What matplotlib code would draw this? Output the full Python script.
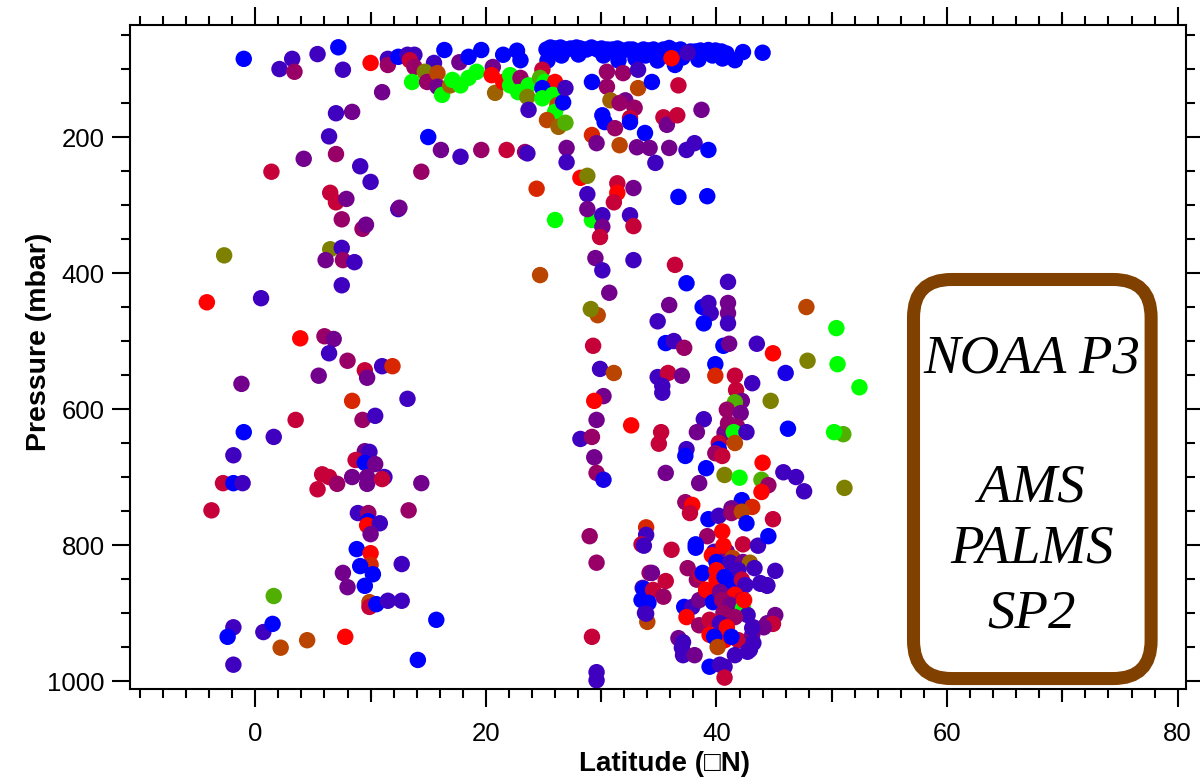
import matplotlib
matplotlib.use("Agg")
import matplotlib.pyplot as plt
from matplotlib.colors import LinearSegmentedColormap, Normalize
from matplotlib.patches import FancyBboxPatch
from matplotlib.ticker import MultipleLocator

# ratio code: 0 = blue, 1 = red, 2 = green (same scale the instruments were coloured with)

# dense band of blue points at the top (all ratio 0)
band_lat = [25.2, 25.6, 26.0, 26.4, 26.9, 27.3, 27.8, 28.2, 28.7, 29.1, 29.6, 30.0, 30.5, 30.9, 31.4,
            31.8, 32.3, 32.7, 33.2, 33.6, 34.1, 34.5, 35.0, 35.4, 36.3, 36.8, 37.7, 38.1, 38.6, 39.5,
            39.9, 40.4, 40.8, 25.3, 26.5, 28.0, 30.2, 31.5, 32.9, 33.8, 34.8, 35.5, 37.0, 38.4, 39.6, 40.5]
band_p = [70, 68, 69, 68, 70, 69, 68, 69, 70, 68, 70, 69, 70, 71, 69,
          72, 70, 71, 73, 70, 72, 71, 73, 70, 72, 71, 73, 74, 72, 73,
          72, 74, 76, 86, 80, 78, 79, 86, 84, 80, 86, 80, 82, 85, 80, 84]

# (latitude, pressure, ratio)
upper_left = [
    (-1.0, 85, 0), (2.1, 100, .25), (3.2, 85, .25), (3.4, 104, .6), (5.4, 78, .25), (7.2, 68, 0),
    (7.6, 101, .25), (10.0, 91, 1), (11.5, 85, .25), (11.5, 94, .6), (12.4, 82, 0), (11.0, 134, .45),
    (7.0, 165, .25), (8.4, 163, .45), (6.4, 199, .25), (7.0, 225, .6), (4.2, 232, .45), (9.1, 243, .25),
    (10.0, 266, .25), (1.4, 251, .78), (6.5, 282, .78), (7.0, 296, .78), (7.9, 291, .45), (12.4, 306, .25),
    (7.5, 321, .6), (9.3, 335, .6), (9.6, 329, .45), (6.5, 365, 1.5), (7.5, 363, .25), (6.1, 381, .45),
    (7.6, 381, .6), (8.6, 384, .25), (7.5, 418, .25), (-2.7, 374, 1.5), (-4.2, 443, 1.0), (0.5, 437, .25),
]

upper_mid = [
    (13.2, 79, .25), (13.8, 79, .25), (13.4, 87, .78), (13.8, 97, .6), (16.4, 72, 0), (15.5, 91, .25),
    (17.7, 90, .45), (18.5, 82, 0), (19.6, 72, 0), (21.5, 79, 0), (22.7, 73, 0), (23.0, 87, 0), (20.6, 97, .45),
    (13.6, 119, 2), (14.7, 104, 1.5), (14.9, 119, .6), (15.8, 106, 1.27), (15.8, 126, .45), (16.2, 138, 2),
    (16.9, 124, 1.38), (17.1, 116, 2), (17.8, 124, 2), (18.5, 113, 2), (19.2, 104, 2), (20.5, 109, 1),
    (20.8, 135, 1.38), (21.5, 119, 1), (22.1, 109, 2), (22.1, 124, 2), (23.0, 113, .6), (22.8, 134, 2),
    (23.7, 124, 2), (23.6, 141, 1.5), (23.7, 160, .25),
    (24.9, 101, .78), (24.7, 113, 1.68), (25.1, 119, 2), (26.0, 119, 1), (24.9, 128, 0), (24.9, 143, 2),
    (25.8, 138, 2), (26.2, 153, 1.27), (26.0, 163, 2), (26.7, 149, 0), (26.9, 128, .25), (25.3, 175, 1.27),
    (26.3, 185, 1.38), (26.9, 179, 1.68),
    (35.9, 69, 0), (37.5, 76, .25), (39.3, 72, 0), (41.6, 87, 0), (42.3, 75, 0), (44.0, 76, 0), (36.4, 94, 0),
    (36.1, 84, 1),
    (30.5, 104, .6), (31.9, 106, .6), (33.2, 101, .25), (30.5, 126, .6), (29.2, 119, 0), (30.8, 146, 1.38),
    (32.1, 146, .45), (31.6, 150, .6), (33.2, 128, 1.27), (34.4, 119, 0), (36.7, 124, .78), (32.9, 157, .6),
    (32.5, 172, .78), (32.5, 178, 0), (30.1, 168, 0), (30.3, 178, 0), (31.2, 187, .6), (33.8, 194, 0),
    (35.4, 171, .78), (35.7, 182, .45), (36.6, 168, .78), (38.7, 160, .45),
    (29.2, 197, 1.15), (29.6, 209, .45), (31.6, 212, 1.27), (33.1, 215, .45), (34.2, 216, .45),
    (35.9, 216, .45), (37.4, 219, .25), (38.1, 209, .25), (39.3, 219, 0), (34.7, 238, .25),
    (15.0, 200, 0), (16.1, 219, .45), (17.8, 229, .25), (19.6, 219, .6), (21.8, 219, .78), (23.4, 222, .6),
    (23.6, 224, .25), (27.0, 216, .45), (27.0, 237, .25), (14.4, 251, .6), (12.5, 304, .45),
    (24.4, 276, 1.15), (28.2, 260, 1), (28.8, 257, 1.5), (28.8, 284, .25), (31.4, 268, .78), (31.4, 282, 1),
    (31.1, 296, .78), (32.8, 275, .45), (36.7, 288, 0), (39.2, 287, 0),
    (26.0, 322, 2), (29.2, 322, 2), (28.8, 306, .45), (30.1, 315, .25), (30.1, 332, .45), (32.5, 315, .25),
    (32.8, 331, .78), (29.9, 347, .78), (29.5, 378, .45), (30.1, 396, .25), (32.8, 381, .25), (36.4, 388, .78),
    (37.4, 415, 0), (41.0, 413, .25), (24.7, 403, 1.27), (30.7, 429, .45),
]

lower_left = [
    (3.9, 496, 1), (6.0, 493, .6), (6.8, 497, .45), (6.4, 518, .25), (8.0, 529, .6), (9.5, 543, .78),
    (9.7, 554, .45), (11.0, 537, .25), (11.9, 537, 1.15), (5.5, 551, .45), (-1.2, 563, .45), (8.4, 588, 1.15),
    (13.2, 585, .25), (3.5, 616, .78), (9.3, 616, .6), (10.4, 610, .25), (-1.0, 634, 0), (1.6, 641, .25),
    (-1.9, 668, .25), (9.5, 662, .45), (9.9, 663, .25), (8.7, 675, .78), (9.5, 679, 0), (10.4, 681, .45),
    (5.8, 696, .78), (6.4, 700, .78), (7.1, 710, .6), (5.4, 718, .78), (8.4, 700, .45), (9.7, 700, .45),
    (9.7, 710, .45), (11.2, 700, .25), (11.0, 703, .78), (14.4, 709, .45), (-2.8, 709, .78), (-1.9, 709, 0),
    (-1.1, 709, .25), (-3.8, 749, .78), (8.9, 753, .25), (9.8, 753, .6), (9.8, 765, 0), (9.7, 771, 1),
    (10.8, 768, .25), (10.0, 784, .45), (13.3, 749, .6), (8.8, 806, 0), (10.0, 812, 1), (10.0, 829, 1.15),
    (9.1, 831, 0), (10.2, 843, 0), (12.7, 828, .25), (7.6, 841, .45), (8.0, 862, .45), (9.5, 860, 0),
    (1.6, 875, 1.68), (9.9, 884, 1.27), (9.9, 891, .78), (10.5, 887, 0), (11.5, 882, .25), (12.7, 882, .25),
    (-1.9, 921, .25), (-2.4, 935, 0), (0.7, 928, .25), (1.5, 916, 0), (2.2, 951, 1.27), (4.5, 940, 1.27),
    (7.8, 935, 1), (-1.9, 976, .25), (14.1, 969, 0), (15.7, 910, 0),
]

lower_mid = [
    (29.7, 462, 1.27), (29.1, 453, 1.5), (29.3, 507, .78), (29.9, 541, .25), (31.1, 547, 1.27), (30.2, 581, .45),
    (29.4, 588, 1), (29.6, 616, .45), (32.6, 624, 1), (28.2, 644, .25), (29.2, 641, .6), (29.4, 671, .45),
    (29.6, 694, .6), (30.2, 704, .1), (29.0, 787, .6), (29.6, 826, .6), (29.2, 935, .78), (29.6, 987, .25),
    (29.6, 999, .25),
    (33.9, 774, 1.15), (33.9, 785, .25), (33.5, 799, .78), (33.7, 801, .25), (34.2, 841, .6), (33.6, 863, .25),
    (33.5, 881, 0), (33.8, 900, .25), (34.0, 913, 1.27),
]

right_mid = [
    (35.9, 447, .45), (34.9, 471, .25), (38.8, 450, 0), (39.3, 444, .25), (39.5, 459, .25), (38.9, 474, 0),
    (41.0, 444, .45), (41.0, 459, .45), (41.0, 474, .25), (47.8, 450, 1.27), (50.4, 481, 2),
    (35.6, 503, 0), (36.3, 500, .25), (37.2, 510, .6), (40.6, 507, 0), (41.1, 504, .45), (43.5, 504, .25),
    (44.9, 518, 1), (47.9, 529, 1.5), (50.5, 534, 2), (39.9, 534, 0), (39.9, 551, 1.15), (41.6, 551, .78),
    (34.9, 553, .25), (35.8, 547, .78), (37.0, 551, .45), (35.3, 566, .25), (35.3, 576, .25), (43.1, 562, .25),
    (46.0, 547, .1), (52.4, 568, 2),
    (41.7, 572, .78), (42.2, 588, .45), (41.6, 590, 1.68), (44.7, 588, 1.5), (40.9, 601, .6), (42.1, 606, .45),
    (38.9, 615, .25), (38.3, 634, .45), (40.7, 635, .45), (41.0, 621, .6), (41.8, 626, .6), (41.5, 634, 2),
    (42.6, 634, .25), (46.2, 629, 0), (51.0, 637, 1.68), (50.2, 634, 2),
    (35.2, 634, .78), (35.0, 651, .78), (40.2, 650, .78), (41.6, 650, 1.27), (40.2, 659, 0), (39.9, 665, .6),
    (40.5, 669, .78), (37.4, 659, .25), (37.3, 669, 0), (39.1, 687, 0), (35.6, 694, .45), (38.5, 709, .45),
    (40.7, 697, 1.5), (42.0, 701, 2), (44.0, 679, 1), (43.9, 704, 1.68), (44.5, 712, .6), (43.9, 722, 1),
    (45.8, 693, .25), (46.9, 700, .25), (47.6, 721, .25), (51.1, 716, 1.5),
    (42.2, 734, 0), (37.3, 737, .6), (37.9, 741, 1), (43.1, 744, 1.15), (41.3, 746, .45),
]

lower_right = [
    (37.7, 753, .78), (39.3, 762, 0), (40.2, 757, .25), (41.3, 753, .6), (42.2, 751, 1.27), (42.6, 768, 0),
    (40.5, 780, 1), (39.2, 787, .6), (38.2, 799, 0), (38.2, 804, 0), (42.3, 799, .78), (43.6, 801, .25),
    (36.1, 807, .78), (39.8, 810, .25), (40.9, 810, .45), (40.6, 801, 1), (39.6, 815, 1), (40.0, 825, 0),
    (41.4, 819, 1.27), (41.2, 826, .25), (42.3, 825, .45), (42.9, 826, 1.38), (43.3, 834, .25), (34.4, 841, .45),
    (35.6, 853, .78), (37.5, 834, .6), (38.3, 851, .6), (38.6, 844, .78), (38.8, 841, 0), (40.0, 837, 1),
    (40.0, 851, 1), (41.9, 837, .25), (40.7, 847, 0), (41.2, 856, 0), (41.3, 863, 0), (42.2, 851, .78),
    (42.5, 859, .25), (43.8, 856, .25), (44.4, 859, .25), (33.7, 865, 0), (34.5, 866, .78), (35.4, 876, .6),
    (34.1, 885, 0), (33.9, 901, .25), (37.2, 891, 0), (37.9, 891, .25), (37.4, 906, 1), (38.5, 881, .45),
    (39.1, 866, 1), (39.7, 884, 0), (40.3, 869, .45), (41.6, 873, 1), (40.5, 881, .6), (42.2, 881, .78),
    (41.2, 888, .45), (42.3, 893, 2), (42.7, 903, .25), (40.6, 900, .6), (41.6, 906, .6), (38.5, 918, .6),
    (39.4, 910, .78), (40.3, 915, .25), (40.9, 921, 1), (43.2, 921, .25), (44.4, 915, .45), (39.4, 932, 1),
    (40.7, 940, 1), (41.9, 940, .78), (39.8, 935, 0), (41.3, 935, 0), (43.1, 932, .45), (43.2, 944, .25),
    (36.7, 937, .45), (37.1, 943, .25), (37.0, 951, .25), (37.1, 962, .25), (38.1, 962, .45), (40.1, 950, 1.27),
    (41.6, 962, .25), (42.7, 957, .25), (39.4, 979, 0), (40.3, 976, .25), (40.7, 979, .25), (40.7, 995, .78),
    (44.9, 762, .78), (44.5, 787, 0), (45.1, 838, .25), (43.8, 857, .25), (44.4, 860, .25), (42.4, 881, 1),
    (45.1, 903, .45), (44.9, 916, .78), (44.1, 921, .45), (43.1, 922, .25), (42.9, 954, .25),
]

x_ticks = [0, 20, 40, 60, 80]
x_mid_ticks = [10, 30, 50, 70]
y_ticks = [200, 400, 600, 800, 1000]
box_lines = ["NOAA P3", "AMS", "PALMS", "SP2"]

plt.rcParams['font.family'] = ['Liberation Sans', 'DejaVu Sans']

cmap = LinearSegmentedColormap.from_list("ratio", ["#0000ff", "#ff0000", "#00ff00"])
norm = Normalize(0, 2)
dot = 140

fig = plt.figure(figsize=(12, 7.83), dpi=100)
ax = fig.add_axes([0.1083, 0.12, 0.88, 0.848])

ax.scatter(band_lat, band_p, s=dot, color=cmap(norm(0)), linewidths=0, zorder=2)
for grp in [upper_left, upper_mid, lower_left, lower_mid, right_mid, lower_right]:
    la = [g[0] for g in grp]
    pr = [g[1] for g in grp]
    cv = [g[2] for g in grp]
    ax.scatter(la, pr, s=dot, c=cv, cmap=cmap, norm=norm, linewidths=0, zorder=2)

ax.set_xlim(-10.87, 80.72)
ax.set_ylim(1011.8, 35.3)

ax.set_xticks(x_ticks)
ax.xaxis.set_minor_locator(MultipleLocator(2))
ax.set_yticks(y_ticks)
ax.yaxis.set_minor_locator(MultipleLocator(50))
ax.tick_params(which='both', direction='out', top=True, right=True, width=1.5,
               labelsize=18.5, labeltop=False, labelright=False)
ax.tick_params(which='major', length=13)
ax.tick_params(which='minor', length=6.5)
ax.tick_params(axis='x', which='major', pad=11)
ax.tick_params(axis='y', which='major', pad=5)
for sp in ax.spines.values():
    sp.set_linewidth(1.5)

# medium ticks every 10 degrees, top and bottom
for side in ['bottom', 'top']:
    sec = ax.secondary_xaxis(side)
    sec.set_xticks(x_mid_ticks)
    sec.set_xticklabels([])
    sec.tick_params(length=9.5, width=1.5, direction='out')
    sec.spines[side].set_visible(False)
    sec.xaxis.set_minor_locator(plt.NullLocator())

ax.set_xlabel("Latitude (\u25a1N)", fontsize=20, fontweight='bold')
ax.set_ylabel("Pressure (mbar)", fontsize=20.5, fontweight='bold')
ax.xaxis.set_label_coords(0.506, -0.093)
ax.yaxis.set_label_coords(-0.074, 0.523)

box = FancyBboxPatch((0.742, 0.0158), 0.225, 0.601,
                     boxstyle="round,pad=0,rounding_size=0.036",
                     mutation_aspect=1056 / 664, transform=ax.transAxes,
                     facecolor='white', edgecolor='#804000', linewidth=9.4, zorder=3)
ax.add_patch(box)
for txt, yy in zip(box_lines, [0.477, 0.282, 0.190, 0.093]):
    ax.text(0.854, yy, txt, transform=ax.transAxes, ha='center', va='baseline',
            fontsize=39.5, style='italic', family='Liberation Serif', zorder=4)

fig.savefig("out.png", dpi=100)
